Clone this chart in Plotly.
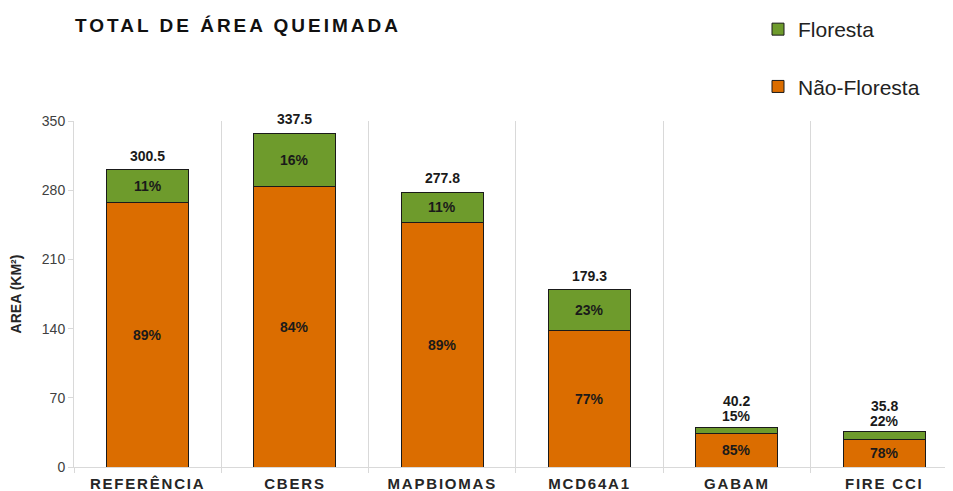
import plotly.graph_objects as go

categories = ["REFERÊNCIA", "CBERS", "MAPBIOMAS", "MCD64A1", "GABAM", "FIRE CCI"]
totals = [300.5, 337.5, 277.8, 179.3, 40.2, 35.8]
pct_floresta = [11, 16, 11, 23, 15, 22]
pct_nao_floresta = [89, 84, 89, 77, 85, 78]
floresta = [t * p / 100 for t, p in zip(totals, pct_floresta)]
nao_floresta = [t - f for t, f in zip(totals, floresta)]
y_ticks = [0, 70, 140, 210, 280, 350]
small_bars = {"GABAM", "FIRE CCI"}

ORANGE = "#DB6D00"
GREEN = "#6E9B2C"
EDGE = "#1A1A1A"
LABEL_FONT = dict(family="Liberation Sans Narrow, Arial Narrow, Liberation Sans, Arial", size=14, color="#1A1A1A")

# page body has an 8px default margin, so the figure is sized to fit inside
W, H = 945, 483

def spaced(s, px):
    return f'<span style="letter-spacing:{px}px">{s}</span>'

fig = go.Figure()
fig.add_trace(go.Bar(
    x=categories, y=nao_floresta, name="Não-Floresta",
    marker=dict(color=ORANGE, line=dict(color=EDGE, width=1)),
    legendgroup="nf", legendrank=2, hoverinfo="skip",
))
fig.add_trace(go.Bar(
    x=categories, y=floresta, name="Floresta",
    marker=dict(color=GREEN, line=dict(color=EDGE, width=1)),
    legendgroup="f", legendrank=1, hoverinfo="skip",
))

ann = []
for c, t, f, nf, pf, pn in zip(categories, totals, floresta, nao_floresta, pct_floresta, pct_nao_floresta):
    ann.append(dict(x=c, y=nf / 2, text=f"<b>{pn}%</b>", showarrow=False, font=LABEL_FONT))
    if c in small_bars:
        ann.append(dict(x=c, y=t, text=f"<b>{pf}%</b>", showarrow=False, yanchor="bottom", yshift=1, font=LABEL_FONT))
        ann.append(dict(x=c, y=t, text=f"<b>{t}</b>", showarrow=False, yanchor="bottom", yshift=16, font=LABEL_FONT))
    else:
        ann.append(dict(x=c, y=nf + f / 2, text=f"<b>{pf}%</b>", showarrow=False, font=LABEL_FONT))
        ann.append(dict(x=c, y=t, text=f"<b>{t}</b>", showarrow=False, yanchor="bottom", yshift=4, font=LABEL_FONT))

fig.update_layout(
    width=W, height=H,
    margin=dict(l=66, r=0, t=113, b=24, autoexpand=False),
    paper_bgcolor="white", plot_bgcolor="white",
    barmode="stack", bargap=0.443,
    font=dict(family="Liberation Sans, Arial", color="#404040"),
    title=dict(
        text="<b>" + spaced("TOTAL DE ÁREA QUEIMADA", 3) + "</b>",
        xref="container", x=67 / W, xanchor="left",
        yref="container", y=1 - 17 / H, yanchor="middle",
        pad=dict(l=0, r=0, t=0, b=0),
        font=dict(family="Liberation Sans, Arial", size=19, color="#111111"),
    ),
    legend=dict(
        xref="container", yref="container",
        x=750 / W, y=1 - 1 / H, xanchor="left", yanchor="top",
        traceorder="grouped", tracegroupgap=27,
        font=dict(family="Liberation Sans, Arial", size=21, color="#222222"),
        bgcolor="rgba(0,0,0,0)",
    ),
    annotations=ann,
    showlegend=True,
)
fig.update_xaxes(
    type="category", range=[-0.5, 5.467],
    tickson="boundaries", showgrid=True, gridcolor="#D9D9D9", gridwidth=1,
    showline=True, linecolor="#D9D9D9", linewidth=1,
    ticks="outside", ticklen=5, tickcolor="#D9D9D9",
    ticklabelstandoff=3,
    tickvals=categories,
    ticktext=["<b>" + spaced(c, 1.8) + "</b>" for c in categories],
    tickfont=dict(family="Liberation Sans, Arial", size=15, color="#262626"),
)
fig.update_yaxes(
    range=[0, 350], tickvals=y_ticks, showgrid=False, zeroline=False,
    showline=True, linecolor="#D9D9D9", linewidth=1,
    ticks="outside", ticklen=5, tickcolor="#D9D9D9",
    tickfont=dict(family="Liberation Sans, Arial", size=14, color="#404040"),
    title=dict(text="<b>AREA (KM²)</b>", standoff=18,
               font=dict(family="Liberation Sans, Arial", size=14, color="#262626")),
)
fig.write_html("out.html")
